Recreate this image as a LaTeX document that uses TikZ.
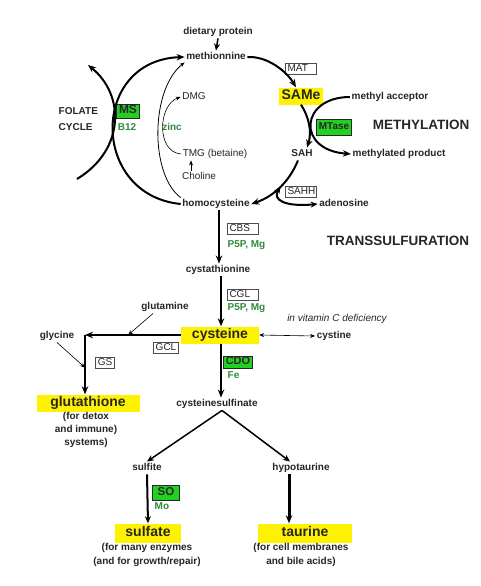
\documentclass[tikz,border=0pt]{standalone}
\usepackage{fontspec}
\setmainfont{Liberation Sans}
\usetikzlibrary{arrows.meta}

\definecolor{hiyellow}{HTML}{FFF200}
\definecolor{enzgreen}{HTML}{22D022}
\definecolor{cofgreen}{HTML}{2F8A3C}
\definecolor{ink}{HTML}{262626}

\newcommand\lblfont{\bfseries\fontsize{10}{12}\selectfont}
\newcommand\notefont{\bfseries\fontsize{10}{12.8}\selectfont}
\newcommand\bigfont{\bfseries\fontsize{14}{16}\selectfont}
\newcommand\headfont{\bfseries\fontsize{13.5}{15}\selectfont}
\newcommand\enzfont{\fontsize{10}{12}\selectfont}

\tikzset{
  hilite/.style={fill=hiyellow, font=\bigfont, text height=10pt, text depth=3pt, inner ysep=2pt, inner xsep=3pt},
  enzbox/.style={draw=black!70, fill=white, line width=0.7pt, font=\enzfont, inner xsep=2pt, inner ysep=0.8pt},
  enzwide/.style={enzbox, text width=27pt, align=left},
  greenbox/.style={draw=black!85, fill=enzgreen, line width=0.7pt, inner xsep=2pt, inner ysep=1pt},
  cofac/.style={text=cofgreen},
  plainlbl/.style={font=\enzfont},
  heading/.style={font=\headfont},
  note/.style={align=center, font=\notefont, text height=, text depth=},
  cyclearc/.style={draw, line width=2pt, -{Stealth[length=8pt,width=6.5pt]}},
  flow/.style={draw, line width=2.3pt, -{Stealth[length=8pt,width=6.5pt]}},
  slim/.style={draw, line width=1.5pt, -{Stealth[length=7pt,width=6pt]}},
  hair/.style={draw, line width=0.6pt, -{Stealth[length=5pt,width=4pt]}},
}

\begin{document}
\begin{tikzpicture}[x=1pt,y=-1pt]
\useasboundingbox[fill=white] (0,0) rectangle (480,586);

\begin{scope}[every node/.style={text=ink, font=\lblfont, text height=7.5pt, text depth=2pt, inner sep=1.5pt}]
  % methionine cycle
  \node (diet)   at (218,32)  {dietary protein};
  \node (met)    at (216,57)  {methionnine};
  \node[enzwide] (mat) at (301,69) {MAT};
  \node[hilite, minimum width=37pt] (same) at (301,96) {SAMe};
  \node (macc)   at (390,97)  {methyl acceptor};
  \node[greenbox, font=\lblfont, minimum width=35pt, minimum height=16pt] (mtase) at (334,127) {MTase};
  \node[heading] (methyl) at (421,127) {METHYLATION};
  \node (sah)    at (302,154) {SAH};
  \node (mprod)  at (399,154) {methylated product};
  \node[enzwide] (sahh) at (301,192) {SAHH};
  \node (hcy)    at (216,204) {homocysteine};
  \node (ado)    at (344,204) {adenosine};

  % folate and betaine side
  \node[anchor=west] (folate) at (57,112) {FOLATE};
  \node[anchor=west] (cycle)  at (57,128) {CYCLE};
  \node[greenbox, font=\bfseries\fontsize{12}{14}\selectfont, minimum width=23pt, minimum height=14pt] (ms) at (128,111) {MS};
  \node[cofac] (b12)  at (127,128) {B12};
  \node[cofac] (zinc) at (172,128) {zinc};
  \node[plainlbl] (dmg)  at (194,97)  {DMG};
  \node[plainlbl] (tmg)  at (215,154) {TMG (betaine)};
  \node[plainlbl] (chol) at (199,177) {Choline};

  % transsulfuration
  \node[enzwide] (cbs) at (243,229) {CBS};
  \node[cofac, anchor=west] (p5pa) at (226,245) {P5P, Mg};
  \node[heading] (trans) at (398,243) {TRANSSULFURATION};
  \node (cysth)  at (218,270) {cystathionine};
  \node[enzwide] (cgl) at (243,295) {CGL};
  \node[cofac, anchor=west] (p5pb) at (226,308) {P5P, Mg};
  \node[plainlbl, font=\itshape\fontsize{10}{12}\selectfont] (vitc) at (337,319) {in vitamin C deficiency};
  \node[hilite, minimum width=78pt] (cys) at (220,335) {cysteine};
  \node (cyst)   at (334,336) {cystine};
  \node (gln)    at (165,307) {glutamine};
  \node (gly)    at (57,336)  {glycine};
  \node[enzbox] (gcl) at (166,348) {GCL};
  \node[enzbox] (gs)  at (105,363) {GS};
  \node[greenbox, font=\bfseries\fontsize{11}{13}\selectfont, minimum width=23pt, minimum height=12pt] (cdo) at (238,362) {CDO};
  \node[cofac, anchor=west] (fe) at (226,376) {Fe};

  % products
  \node[hilite, minimum width=103pt] (glut) at (88,403) {glutathione};
  \node[note] (glutnote) at (86,430) {(for detox\\and immune)\\systems)};
  \node (csa)    at (217,404) {cysteinesulfinate};
  \node (sulfite) at (147,468) {sulfite};
  \node (hypo)   at (301,468) {hypotaurine};
  \node[greenbox, font=\bfseries\fontsize{11.5}{13}\selectfont, minimum width=27pt, minimum height=15pt] (so) at (166,493) {SO};
  \node[cofac, anchor=west] (mo) at (153,507) {Mo};
  \node[hilite, minimum width=66pt, inner ysep=3pt] (sulfate) at (148,533) {sulfate};
  \node[note, font=\bfseries\fontsize{10}{14}\selectfont] (sulfnote) at (147,555) {(for many enzymes\\(and for growth/repair)};
  \node[hilite, minimum width=94pt, inner ysep=3pt] (taur) at (305,533) {taurine};
  \node[note, font=\bfseries\fontsize{10}{14}\selectfont] (taurnote) at (301,555) {(for cell membranes\\and bile acids)};
\end{scope}

\coordinate (folbot) at (77,179);
\coordinate (foltop) at (88,65);
\coordinate (gsc) at ([xshift=-3pt]glut.north |- cys.west);

% cycle arcs
\draw[cyclearc] (met.east) .. controls (268,56) and (287,72) .. ([xshift=-5pt]same.north);
\draw[cyclearc] (same.south) .. controls (309,117) and (312,132) .. ([xshift=5pt]sah.north);
\draw[cyclearc] ([xshift=-4pt]sah.south) .. controls (290,180) and (275,196) .. coordinate[pos=.5] (ahcy) (hcy.east);
\draw[cyclearc] (macc.west) .. controls (300,97) and (296,150) .. (mprod.west);
\draw[cyclearc, {Stealth[length=7pt,width=6pt]}-{Stealth[length=7pt,width=6pt]}] (ahcy) .. controls (272,200) and (285,207) .. (ado.west);
\draw[cyclearc] (hcy.west) .. controls (90,195) and (90,60) .. (met.west);
\draw[cyclearc] (folbot) .. controls (125,150) and (125,95) .. (foltop);

% betaine route
\draw[hair, line width=0.8pt] (hcy.north west) .. controls (150,175) and (150,90) .. ([yshift=1pt]met.south west);
\draw[hair] (tmg.west) .. controls (156,152) and (158,105) .. (dmg.west);
\draw[hair] (chol.north -| 191,0) -- (tmg.south -| 191,0);
\draw[slim] (diet.south) -- (met.north);

% transsulfuration
\draw[flow] ([xshift=3pt]hcy.south) -- ([xshift=3pt]hcy.south |- cysth.north);
\draw[flow] ([xshift=3pt]cysth.south) -- ([xshift=3pt]cysth.south |- cys.north);
\draw[flow] ([xshift=1pt]cys.south) -- ([xshift=1pt]cys.south |- csa.north);
\draw[hair, {Stealth[length=5pt,width=4pt]}-{Stealth[length=5pt,width=4pt]}] (cys.east) -- (cyst.west);

% glutathione
\draw[flow] (cys.west) -- coordinate[pos=.55] (glnin) (gsc);
\draw[flow] (gsc) -- coordinate[pos=.55] (glyin) ([xshift=-3pt]glut.north);
\draw[hair] ([xshift=-12pt]gln.south) -- (glnin);
\draw[hair] (gly.south) -- (glyin);

% sulfite and taurine
\draw[slim] ([xshift=5pt]csa.south) -- (sulfite.north);
\draw[slim] ([xshift=5pt]csa.south) -- ([xshift=-11pt]hypo.north);
\draw[slim, line width=2pt] (sulfite.south) -- (sulfate.north);
\draw[flow, line width=3pt] ([xshift=-12pt]hypo.south) -- ([xshift=-12pt]hypo.south |- taur.north);
\end{tikzpicture}
\end{document}
